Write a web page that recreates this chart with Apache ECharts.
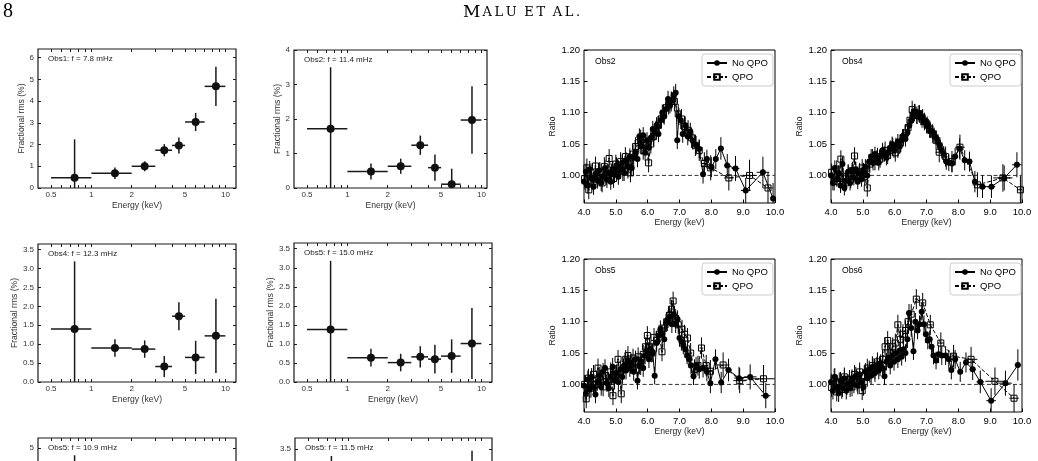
<!DOCTYPE html>
<html><head><meta charset="utf-8">
<script src="https://cdn.jsdelivr.net/npm/echarts@6/dist/echarts.min.js"></script>
<style>html,body{margin:0;padding:0;background:#fff}#c{width:1038px;height:461px}</style>
</head><body><div id="c"></div>
<script>
// ---------------- DATA ----------------
// Left panels: fractional rms vs energy (bins)
const binLo  = [0.5, 1, 2, 3, 4, 5, 7];
const binHi  = [1, 2, 3, 4, 5, 7, 10];
const binMid = [0.75, 1.5, 2.5, 3.5, 4.5, 6, 8.5];
const rmsObs1a = [0.47, 0.68, 1.00, 1.74, 1.96, 3.04, 4.68];
const errObs1a = [1.77, 0.26, 0.23, 0.28, 0.37, 0.42, 0.90];
const rmsObs2a = [1.72, 0.48, 0.63, 1.24, 0.59, 0.11, 1.97];
const errObs2a = [1.78, 0.23, 0.22, 0.28, 0.38, 0.45, 0.98];
const rmsObs4a = [1.40, 0.90, 0.87, 0.41, 1.74, 0.65, 1.22];
const errObs4a = [1.79, 0.23, 0.23, 0.28, 0.37, 0.44, 0.98];
const rmsObs5a = [1.38, 0.64, 0.51, 0.66, 0.60, 0.68, 1.01];
const errObs5a = [1.80, 0.23, 0.23, 0.28, 0.38, 0.44, 0.93];
const rmsObs5b = [2.00, 1.10, 1.20, 1.50, 2.00, 2.60, 3.20];
const errObs5b = [2.73, 0.30, 0.30, 0.35, 0.45, 0.55, 1.10];
const rmsObs5c = [1.50, 0.70, 0.60, 0.80, 0.70, 0.90, 1.50];
const errObs5c = [1.81, 0.25, 0.25, 0.30, 0.40, 0.45, 1.95];
const rmsTickE  = [0.5,0.6,0.7,0.8,0.9,1,2,3,4,5,6,7,8,9,10];
const rmsLabelE = [0.5, 1, 2, 5, 10];
const rmsTicks6 = [0, 1, 2, 3, 4, 5, 6];
const rmsTicks5 = [0, 1, 2, 3, 4, 5];
const rmsTicks4 = [0, 1, 2, 3, 4];
const rmsTicksHalf = [0, 0.5, 1.0, 1.5, 2.0, 2.5, 3.0, 3.5];
const panelLabels = ['Obs1: f = 7.8 mHz','Obs2: f = 11.4 mHz','Obs4: f = 12.3 mHz','Obs5: f = 15.0 mHz','Obs5: f = 10.9 mHz','Obs5: f = 11.5 mHz'];

// Right panels: ratio vs energy  [E, ratio, ratioErr, halfWidthE]
const ratioTicks = [1.00, 1.05, 1.10, 1.15, 1.20];
const refLevel = 1.0;
const obs2NoQPO = [[4.00,0.990,.013,.03],[4.06,1.006,.013,.03],[4.12,0.984,.013,.03],[4.18,1.010,.013,.03],[4.24,0.996,.013,.03],[4.30,0.982,.013,.03],[4.36,1.002,.013,.03],[4.42,0.992,.013,.03],[4.48,1.008,.013,.03],[4.54,0.988,.013,.03],[4.60,0.999,.013,.03],[4.66,1.012,.013,.03],[4.72,0.993,.013,.03],[4.78,1.004,.013,.03],[4.84,0.990,.013,.03],[4.90,1.010,.013,.03],[4.96,1.001,.013,.03],[5.02,1.016,.013,.03],[5.08,0.998,.013,.03],[5.14,1.010,.013,.03],[5.20,1.020,.013,.03],[5.26,1.004,.013,.03],[5.32,1.024,.013,.03],[5.38,1.014,.013,.03],[5.44,1.030,.013,.03],[5.50,1.012,.013,.03],[5.56,1.028,.013,.03],[5.62,1.036,.013,.03],[5.68,1.026,.013,.03],[5.74,1.062,.013,.03],[5.80,1.046,.013,.03],[5.86,1.064,.013,.03],[5.92,1.036,.013,.03],[5.98,1.056,.013,.03],[6.04,1.044,.013,.03],[6.10,1.060,.013,.03],[6.16,1.074,.013,.03],[6.22,1.068,.013,.03],[6.28,1.080,.013,.03],[6.34,1.066,.013,.03],[6.40,1.088,.013,.03],[6.46,1.100,.013,.03],[6.52,1.094,.013,.03],[6.58,1.106,.013,.03],[6.64,1.122,.013,.03],[6.70,1.112,.013,.03],[6.76,1.120,.013,.03],[6.82,1.128,.014,.03],[6.88,1.132,.014,.03],[6.93,1.056,.014,.03],[6.98,1.094,.014,.03],[7.04,1.088,.014,.03],[7.10,1.066,.014,.04],[7.18,1.080,.014,.04],[7.26,1.062,.014,.04],[7.34,1.070,.014,.04],[7.42,1.055,.014,.04],[7.52,1.048,.015,.05],[7.62,1.042,.015,.05],[7.74,1.002,.015,.06],[7.86,1.026,.015,.06],[8.00,1.013,.016,.07],[8.14,1.026,.016,.07],[8.30,1.043,.018,.08],[8.50,1.016,.018,.10],[8.76,1.011,.020,.12],[9.08,0.976,.020,.15],[9.62,1.005,.025,.20],[9.94,0.963,.025,.06]];
const obs2QPO = [[4.02,0.995,.015,.03],[4.09,1.012,.015,.03],[4.15,0.977,.015,.03],[4.22,1.004,.015,.03],[4.29,0.990,.015,.03],[4.36,1.015,.015,.03],[4.43,0.996,.015,.03],[4.50,1.006,.015,.03],[4.57,0.988,.015,.03],[4.64,1.014,.015,.03],[4.71,1.000,.015,.03],[4.79,1.027,.015,.03],[4.86,1.004,.015,.03],[4.93,0.995,.015,.03],[5.00,1.018,.015,.03],[5.08,1.009,.015,.03],[5.15,1.022,.015,.03],[5.22,1.006,.015,.03],[5.30,1.030,.015,.03],[5.38,1.010,.015,.03],[5.46,1.004,.015,.03],[5.54,1.034,.015,.03],[5.62,1.046,.015,.03],[5.70,1.052,.015,.03],[5.78,1.058,.015,.03],[5.86,1.040,.015,.03],[5.94,1.048,.015,.03],[6.03,1.020,.015,.03],[6.10,1.050,.015,.03],[6.18,1.062,.015,.03],[6.26,1.072,.015,.03],[6.34,1.080,.015,.03],[6.42,1.090,.015,.03],[6.50,1.098,.015,.03],[6.58,1.108,.015,.03],[6.66,1.112,.015,.03],[6.74,1.118,.016,.04],[6.84,1.118,.016,.05],[6.96,1.098,.016,.05],[7.06,1.090,.016,.05],[7.16,1.078,.016,.05],[7.27,1.072,.016,.05],[7.38,1.060,.016,.05],[7.50,1.048,.017,.06],[7.62,1.040,.017,.06],[7.78,1.019,.018,.08],[7.98,1.012,.020,.10],[8.55,0.996,.020,.15],[9.20,1.000,.025,.20],[9.78,0.980,.025,.15]];
const obs4NoQPO = [[4.00,1.000,.012,.03],[4.06,0.988,.012,.03],[4.12,1.012,.012,.03],[4.18,0.994,.012,.03],[4.24,1.004,.012,.03],[4.30,0.984,.012,.03],[4.36,1.018,.012,.03],[4.42,0.980,.012,.03],[4.48,0.992,.012,.03],[4.54,1.006,.012,.03],[4.60,0.988,.012,.03],[4.66,1.008,.012,.03],[4.72,0.996,.012,.03],[4.78,1.010,.012,.03],[4.84,0.990,.012,.03],[4.90,1.004,.012,.03],[4.96,0.994,.012,.03],[5.02,1.008,.012,.03],[5.08,1.014,.012,.03],[5.14,1.000,.012,.03],[5.20,1.022,.012,.03],[5.26,1.030,.012,.03],[5.32,1.020,.012,.03],[5.38,1.034,.012,.03],[5.44,1.028,.012,.03],[5.50,1.020,.012,.03],[5.56,1.030,.012,.03],[5.62,1.040,.012,.03],[5.68,1.034,.012,.03],[5.74,1.028,.012,.03],[5.80,1.036,.012,.03],[5.86,1.044,.012,.03],[5.92,1.050,.012,.03],[5.98,1.040,.012,.03],[6.04,1.048,.012,.03],[6.10,1.054,.012,.03],[6.16,1.046,.012,.03],[6.22,1.056,.012,.03],[6.28,1.062,.012,.03],[6.34,1.058,.012,.03],[6.40,1.068,.012,.03],[6.46,1.080,.012,.03],[6.52,1.088,.012,.03],[6.58,1.096,.012,.03],[6.64,1.102,.012,.03],[6.70,1.094,.012,.03],[6.76,1.100,.012,.03],[6.82,1.092,.012,.03],[6.88,1.094,.012,.03],[6.94,1.086,.012,.03],[7.00,1.080,.012,.03],[7.06,1.078,.012,.03],[7.12,1.072,.012,.03],[7.18,1.070,.012,.03],[7.24,1.064,.012,.03],[7.30,1.060,.012,.03],[7.36,1.054,.012,.03],[7.42,1.048,.013,.03],[7.48,1.040,.013,.03],[7.54,1.034,.013,.03],[7.62,1.022,.013,.04],[7.70,1.020,.013,.04],[7.80,1.019,.014,.05],[7.90,1.030,.014,.05],[8.04,1.043,.016,.06],[8.20,1.024,.016,.07],[8.35,1.022,.016,.08],[8.52,0.990,.017,.08],[8.76,0.982,.018,.10],[9.04,0.982,.018,.12],[9.44,0.996,.020,.20],[9.84,1.017,.020,.15]];
const obs4QPO = [[4.02,1.005,.014,.03],[4.10,0.990,.014,.03],[4.18,1.010,.014,.03],[4.26,0.995,.014,.03],[4.31,1.026,.014,.03],[4.38,0.998,.014,.03],[4.46,0.988,.014,.03],[4.54,1.002,.014,.03],[4.62,0.994,.014,.03],[4.68,1.008,.014,.03],[4.74,1.031,.014,.03],[4.82,1.000,.014,.03],[4.90,1.006,.014,.03],[4.98,1.012,.014,.03],[5.06,0.998,.014,.03],[5.14,0.980,.014,.03],[5.22,1.018,.014,.03],[5.30,1.028,.014,.03],[5.38,1.022,.014,.03],[5.46,1.030,.014,.03],[5.54,1.026,.014,.03],[5.62,1.036,.014,.03],[5.70,1.040,.014,.03],[5.78,1.032,.014,.03],[5.86,1.040,.014,.03],[5.94,1.046,.014,.03],[6.02,1.036,.014,.03],[6.10,1.042,.014,.03],[6.18,1.052,.014,.03],[6.26,1.060,.014,.03],[6.34,1.068,.014,.03],[6.42,1.076,.014,.03],[6.48,1.088,.014,.03],[6.55,1.105,.014,.03],[6.62,1.100,.014,.03],[6.70,1.096,.014,.03],[6.78,1.098,.014,.03],[6.86,1.090,.014,.03],[6.94,1.086,.014,.04],[7.02,1.080,.014,.04],[7.10,1.074,.014,.04],[7.20,1.066,.014,.04],[7.30,1.056,.015,.05],[7.40,1.037,.016,.12],[7.60,1.030,.016,.06],[7.80,1.022,.017,.08],[8.05,1.045,.020,.15],[8.60,0.985,.020,.15],[9.40,0.996,.022,.30],[9.95,0.977,.022,.08]];
const obs5NoQPO = [[4.00,0.998,.014,.03],[4.06,0.985,.014,.03],[4.12,1.008,.014,.03],[4.18,0.992,.014,.03],[4.24,1.012,.014,.03],[4.30,0.996,.014,.03],[4.36,0.984,.014,.03],[4.42,1.004,.014,.03],[4.48,1.014,.014,.03],[4.54,0.996,.014,.03],[4.60,1.020,.014,.03],[4.66,1.026,.014,.03],[4.72,1.002,.014,.03],[4.78,0.994,.014,.03],[4.84,1.012,.014,.03],[4.90,1.028,.014,.03],[4.96,1.006,.014,.03],[5.02,1.018,.014,.03],[5.08,1.004,.014,.03],[5.14,1.024,.014,.03],[5.20,1.012,.014,.03],[5.26,1.030,.014,.03],[5.32,1.022,.014,.03],[5.38,1.036,.014,.03],[5.44,1.026,.014,.03],[5.50,1.034,.014,.03],[5.56,1.020,.014,.03],[5.62,1.040,.014,.03],[5.68,1.006,.014,.03],[5.74,1.030,.014,.03],[5.80,1.036,.014,.03],[5.86,1.026,.014,.03],[5.92,1.046,.014,.03],[5.98,1.054,.014,.03],[6.04,1.040,.014,.03],[6.10,1.056,.014,.03],[6.16,1.050,.014,.03],[6.22,1.014,.014,.03],[6.28,1.066,.014,.03],[6.34,1.078,.014,.03],[6.40,1.088,.014,.03],[6.46,1.080,.014,.03],[6.52,1.072,.014,.03],[6.58,1.098,.014,.03],[6.64,1.104,.014,.03],[6.70,1.108,.014,.03],[6.76,1.096,.014,.03],[6.82,1.112,.014,.03],[6.88,1.096,.014,.03],[6.94,1.104,.014,.03],[7.00,1.074,.014,.03],[7.06,1.068,.014,.03],[7.12,1.062,.014,.03],[7.18,1.056,.014,.03],[7.24,1.046,.014,.03],[7.30,1.040,.014,.03],[7.36,1.030,.014,.03],[7.44,1.013,.014,.04],[7.52,1.030,.014,.04],[7.62,1.024,.015,.05],[7.74,1.026,.015,.05],[7.86,1.020,.015,.06],[7.97,1.002,.016,.06],[8.13,1.040,.016,.08],[8.31,1.003,.017,.08],[8.54,1.023,.018,.10],[8.87,1.010,.018,.15],[9.22,1.012,.020,.20],[9.71,0.982,.020,.15]];
const obs5QPO = [[4.02,1.000,.015,.03],[4.07,0.977,.015,.03],[4.14,1.010,.015,.03],[4.22,0.994,.015,.03],[4.30,1.016,.015,.03],[4.37,1.000,.015,.03],[4.44,1.026,.015,.03],[4.52,1.008,.015,.03],[4.60,0.996,.015,.03],[4.68,1.014,.015,.03],[4.76,1.004,.015,.03],[4.84,1.020,.015,.03],[4.91,0.982,.015,.03],[4.98,1.016,.015,.03],[5.07,1.040,.015,.03],[5.17,0.985,.015,.03],[5.24,1.026,.015,.03],[5.31,1.040,.015,.03],[5.38,1.046,.015,.03],[5.46,1.032,.015,.03],[5.54,1.042,.015,.03],[5.62,1.036,.015,.03],[5.70,1.044,.015,.03],[5.78,1.030,.015,.03],[5.86,1.048,.015,.03],[5.93,1.060,.015,.03],[5.99,1.078,.015,.03],[6.06,1.060,.015,.03],[6.13,1.050,.015,.03],[6.20,1.075,.015,.03],[6.28,1.070,.015,.03],[6.36,1.080,.015,.03],[6.45,1.052,.015,.03],[6.52,1.090,.015,.03],[6.60,1.100,.015,.03],[6.68,1.110,.015,.03],[6.75,1.120,.015,.03],[6.80,1.133,.015,.03],[6.88,1.105,.015,.03],[6.96,1.095,.015,.03],[7.08,1.088,.015,.04],[7.16,1.080,.015,.04],[7.25,1.074,.016,.04],[7.35,1.050,.016,.05],[7.47,1.024,.016,.05],[7.58,1.030,.016,.05],[7.69,1.058,.017,.06],[7.84,1.030,.017,.06],[7.97,1.021,.018,.08],[8.37,1.031,.020,.20],[8.89,1.006,.020,.20],[9.64,1.009,.022,.35]];
const obs6NoQPO = [[4.00,1.004,.014,.03],[4.06,0.990,.014,.03],[4.12,1.012,.014,.03],[4.18,0.996,.014,.03],[4.24,0.986,.014,.03],[4.30,1.006,.014,.03],[4.36,0.994,.014,.03],[4.42,1.010,.014,.03],[4.48,0.990,.014,.03],[4.54,1.002,.014,.03],[4.60,0.994,.014,.03],[4.66,1.010,.014,.03],[4.72,1.000,.014,.03],[4.78,1.014,.014,.03],[4.84,0.998,.014,.03],[4.90,1.016,.014,.03],[4.96,1.004,.014,.03],[5.02,0.996,.014,.03],[5.08,1.020,.014,.03],[5.14,1.010,.014,.03],[5.20,1.024,.014,.03],[5.26,1.014,.014,.03],[5.32,1.028,.014,.03],[5.38,1.018,.014,.03],[5.44,1.030,.014,.03],[5.50,1.022,.014,.03],[5.56,1.034,.014,.03],[5.62,1.026,.014,.03],[5.68,1.013,.014,.03],[5.74,1.036,.014,.03],[5.80,1.042,.014,.03],[5.86,1.030,.014,.03],[5.92,1.046,.014,.03],[5.98,1.036,.014,.03],[6.04,1.050,.014,.03],[6.10,1.040,.014,.03],[6.16,1.054,.014,.03],[6.22,1.044,.014,.03],[6.28,1.056,.014,.03],[6.34,1.050,.014,.03],[6.40,1.072,.014,.03],[6.45,1.114,.014,.03],[6.52,1.090,.014,.03],[6.59,1.053,.014,.03],[6.65,1.100,.014,.03],[6.72,1.086,.014,.03],[6.78,1.096,.014,.03],[6.85,1.116,.014,.03],[6.92,1.096,.014,.03],[6.98,1.080,.014,.03],[7.04,1.070,.014,.03],[7.10,1.072,.014,.03],[7.16,1.060,.014,.03],[7.22,1.046,.014,.03],[7.30,1.038,.014,.04],[7.38,1.048,.014,.04],[7.48,1.046,.015,.05],[7.60,1.046,.015,.05],[7.70,1.040,.015,.05],[7.78,1.023,.015,.05],[7.90,1.040,.015,.06],[8.06,1.020,.016,.07],[8.24,1.035,.016,.08],[8.45,1.024,.017,.10],[8.69,1.004,.018,.12],[9.03,0.974,.020,.15],[9.48,1.002,.020,.20],[9.87,1.031,.025,.10]];
const obs6QPO = [[4.02,0.995,.015,.03],[4.10,1.010,.015,.03],[4.18,0.988,.015,.03],[4.26,1.004,.015,.03],[4.34,0.992,.015,.03],[4.42,1.012,.015,.03],[4.50,0.998,.015,.03],[4.58,1.008,.015,.03],[4.66,0.996,.015,.03],[4.74,1.016,.015,.03],[4.82,1.004,.015,.03],[4.90,1.020,.015,.03],[4.98,0.990,.015,.03],[5.06,1.014,.015,.03],[5.14,1.026,.015,.03],[5.22,1.018,.015,.03],[5.30,1.030,.015,.03],[5.38,1.024,.015,.03],[5.46,1.036,.015,.03],[5.54,1.028,.015,.03],[5.62,1.040,.015,.03],[5.70,1.060,.015,.03],[5.78,1.070,.015,.03],[5.86,1.050,.015,.03],[5.94,1.060,.015,.03],[6.02,1.066,.015,.03],[6.10,1.095,.016,.03],[6.18,1.072,.016,.03],[6.26,1.080,.016,.03],[6.34,1.086,.016,.03],[6.42,1.100,.016,.03],[6.52,1.112,.016,.04],[6.68,1.136,.016,.05],[6.88,1.130,.016,.06],[7.12,1.095,.016,.07],[7.45,1.066,.017,.10],[7.85,1.045,.018,.12],[8.40,1.040,.020,.20],[9.15,1.005,.022,.30],[9.75,0.978,.022,.15]];
const ratioLabels = ['Obs2','Obs4','Obs5','Obs6'];

// ---------------- BUILD ----------------
const FS = '"Liberation Sans", Arial, Helvetica, sans-serif';
const grid = [], xAxis = [], yAxis = [], series = [], legend = [], graphic = [];
const lg = v => Math.log10(v);
const noLine = {show: false, onZero: false};

function ebRender(params, api) {
  const x = api.value(0), y = api.value(1), e = api.value(2), xl = api.value(3), xh = api.value(4);
  const a = api.coord([x, y - e]), b = api.coord([x, y + e]);
  const c = api.coord([xl, y]), d = api.coord([xh, y]);
  const left = params.seriesName === 'eb-left';
  const st = {stroke: left ? '#1a1a1a' : '#000', lineWidth: left ? 1.5 : 1};
  return {type: 'group', children: [
    {type: 'line', shape: {x1: a[0], y1: a[1], x2: b[0], y2: b[1]}, style: st},
    {type: 'line', shape: {x1: c[0], y1: c[1], x2: d[0], y2: d[1]}, style: st}
  ]};
}

function mkGrid(box, bw, bc) {
  return {left: box[0], top: box[1], width: box[2], height: box[3], show: true,
    borderColor: bc, borderWidth: bw, backgroundColor: 'transparent',
    containLabel: false, outerBoundsMode: 'none'};
}

function leftPanel(box, yMax, yTicks, yDec, xMax, label, rms, err) {
  grid.push(mkGrid(box, 1.2, '#1a1a1a'));
  const g = grid.length - 1;
  const xi = xAxis.length, yi = yAxis.length;
  const xmin = lg(0.4), xmax = lg(xMax);
  const tick = {show: true, inside: true, length: 3, customValues: rmsTickE.map(lg), lineStyle: {color: '#1a1a1a', width: 1}};
  xAxis.push({gridIndex: g, type: 'value', position: 'bottom', min: xmin, max: xmax,
    axisLine: noLine, splitLine: {show: false}, axisTick: tick,
    axisLabel: {customValues: rmsLabelE.map(lg), formatter: v => String(+Math.pow(10, v).toPrecision(2)), fontSize: 8, color: '#333', margin: 3, fontFamily: FS},
    name: 'Energy (keV)', nameLocation: 'middle', nameGap: 13, nameTextStyle: {fontSize: 8.6, color: '#333', fontFamily: FS}});
  xAxis.push({gridIndex: g, type: 'value', position: 'top', min: xmin, max: xmax,
    axisLine: noLine, splitLine: {show: false}, axisTick: tick, axisLabel: {show: false}});
  const ytick = {show: true, inside: true, length: 3, customValues: yTicks, lineStyle: {color: '#1a1a1a', width: 1}};
  yAxis.push({gridIndex: g, type: 'value', position: 'left', min: 0, max: yMax,
    axisLine: noLine, splitLine: {show: false}, axisTick: ytick,
    axisLabel: {customValues: yTicks, formatter: v => v.toFixed(yDec), fontSize: 8, color: '#333', margin: 4, fontFamily: FS},
    name: 'Fractional rms (%)', nameLocation: 'middle', nameGap: yDec ? 17 : 11, nameTextStyle: {fontSize: 8.6, color: '#333', fontFamily: FS}});
  yAxis.push({gridIndex: g, type: 'value', position: 'right', min: 0, max: yMax,
    axisLine: noLine, splitLine: {show: false}, axisTick: ytick, axisLabel: {show: false}});
  series.push({type: 'custom', name: 'eb-left', xAxisIndex: xi, yAxisIndex: yi, clip: true, z: 2,
    renderItem: ebRender, encode: {x: 0, y: 1},
    data: binMid.map((e, k) => [lg(e), rms[k], err[k], lg(binLo[k]), lg(binHi[k])])});
  series.push({type: 'scatter', xAxisIndex: xi, yAxisIndex: yi, symbol: 'circle', symbolSize: 8, z: 3,
    itemStyle: {color: '#111', opacity: 1},
    data: binMid.map((e, k) => [lg(e), rms[k]])});
  graphic.push({type: 'text', left: box[0] + 10, top: box[1] + 6, z: 10,
    style: {text: label, font: '8px ' + FS, fill: '#222'}});
}

function rightPanel(box, label, noData, qpoData, legPos) {
  grid.push(mkGrid(box, 1, '#000'));
  const g = grid.length - 1;
  const xi = xAxis.length, yi = yAxis.length;
  xAxis.push({gridIndex: g, type: 'value', min: 4, max: 10, interval: 1,
    axisLine: noLine, splitLine: {show: false},
    axisTick: {show: true, inside: true, length: 3.5, lineStyle: {color: '#000'}},
    axisLabel: {formatter: v => v.toFixed(1), fontSize: 9.5, color: '#000', margin: 4, fontFamily: FS},
    name: 'Energy (keV)', nameLocation: 'middle', nameGap: 15, nameTextStyle: {fontSize: 8.6, color: '#222', fontFamily: FS}});
  yAxis.push({gridIndex: g, type: 'value', min: 0.956, max: 1.2,
    axisLine: noLine, splitLine: {show: false},
    axisTick: {show: true, inside: true, length: 3.5, customValues: ratioTicks, lineStyle: {color: '#000'}},
    axisLabel: {customValues: ratioTicks, formatter: v => v.toFixed(2), fontSize: 9.5, color: '#000', margin: 4, fontFamily: FS},
    name: 'Ratio', nameLocation: 'middle', nameGap: 25, nameTextStyle: {fontSize: 8.6, color: '#222', fontFamily: FS}});
  series.push({type: 'line', xAxisIndex: xi, yAxisIndex: yi, data: [[4, refLevel], [10, refLevel]],
    symbol: 'none', z: 1, lineStyle: {color: '#333', width: 1, type: [4, 2.5]}, silent: true});
  series.push({type: 'custom', name: 'eb-right', xAxisIndex: xi, yAxisIndex: yi, clip: true, z: 2,
    renderItem: ebRender, encode: {x: 0, y: 1},
    data: noData.map(p => [p[0], p[1], p[2], p[0] - p[3], p[0] + p[3]])});
  series.push({type: 'custom', name: 'eb-right', xAxisIndex: xi, yAxisIndex: yi, clip: true, z: 2,
    renderItem: ebRender, encode: {x: 0, y: 1},
    data: qpoData.map(p => [p[0], p[1], p[2], p[0] - p[3], p[0] + p[3]])});
  series.push({type: 'line', name: 'No QPO', xAxisIndex: xi, yAxisIndex: yi, clip: true, z: 4,
    data: noData.map(p => [p[0], p[1]]), symbol: 'circle', symbolSize: 6, showSymbol: true,
    itemStyle: {color: '#000'}, lineStyle: {color: '#000', width: 1}});
  series.push({type: 'line', name: 'QPO', xAxisIndex: xi, yAxisIndex: yi, clip: true, z: 5,
    data: qpoData.map(p => [p[0], p[1]]), symbol: 'rect', symbolSize: 6, showSymbol: true,
    itemStyle: {color: 'rgba(255,255,255,0)', borderColor: '#000', borderWidth: 1},
    lineStyle: {color: '#000', width: 1, type: [4, 2]}});
  legend.push({data: ['No QPO', 'QPO'], orient: 'vertical', left: legPos[0], top: legPos[1],
    itemWidth: 20, itemHeight: 7, itemGap: 4, padding: [4, 5, 4, 4], selectedMode: false,
    borderColor: '#ccc', borderWidth: 1, borderRadius: 3, backgroundColor: '#fff',
    textStyle: {fontSize: 9.5, color: '#000', fontFamily: FS}});
  graphic.push({type: 'text', left: box[0] + 11, top: box[1] + 7, z: 10,
    style: {text: label, font: '8.6px ' + FS, fill: '#000'}});
}

leftPanel([38, 49, 198, 139], 6.4, rmsTicks6, 0, 12, panelLabels[0], rmsObs1a, errObs1a);
leftPanel([294, 50, 193, 138], 4, rmsTicks4, 0, 11, panelLabels[1], rmsObs2a, errObs2a);
leftPanel([38, 244, 198, 138], 3.65, rmsTicksHalf, 1, 12, panelLabels[2], rmsObs4a, errObs4a);
leftPanel([294, 243, 198, 139], 3.65, rmsTicksHalf, 1, 12, panelLabels[3], rmsObs5a, errObs5a);
leftPanel([38, 438, 198, 139], 5.4, rmsTicks5, 0, 12, panelLabels[4], rmsObs5b, errObs5b);
leftPanel([295, 438, 197, 139], 3.8, rmsTicksHalf, 1, 12, panelLabels[5], rmsObs5c, errObs5c);

rightPanel([584, 50, 191, 153], ratioLabels[0], obs2NoQPO, obs2QPO, [702, 54]);
rightPanel([831, 50, 191, 153], ratioLabels[1], obs4NoQPO, obs4QPO, [950, 54]);
rightPanel([584, 259, 191, 153], ratioLabels[2], obs5NoQPO, obs5QPO, [702, 263]);
rightPanel([831, 259, 191, 153], ratioLabels[3], obs6NoQPO, obs6QPO, [950, 263]);

// page header
const SERIF = '"DejaVu Serif", "Liberation Serif", serif';
graphic.push({type: 'text', left: 3, top: 2, style: {text: '8', font: '20px "Liberation Serif", serif', fill: '#000'}});
graphic.push({type: 'text', left: 463, top: 4, style: {
  text: '{a|M}{b|A}{b|L}{b|U}{s| }{b|E}{b|T}{s| }{b|A}{b|L}{b|.}',
  rich: {a: {fontSize: 17, fontFamily: SERIF, color: '#000', padding: [0, 2, 0, 0]},
         b: {fontSize: 13, fontFamily: SERIF, color: '#000', padding: [0, 2.6, 0, 0]},
         s: {fontSize: 13, fontFamily: SERIF, color: '#000', padding: [0, 1, 0, 0]}}}});

const chart = echarts.init(document.getElementById('c'), null, {renderer: 'canvas'});
chart.setOption({animation: false, backgroundColor: '#fff', grid, xAxis, yAxis, series, legend, graphic});
</script></body></html>
